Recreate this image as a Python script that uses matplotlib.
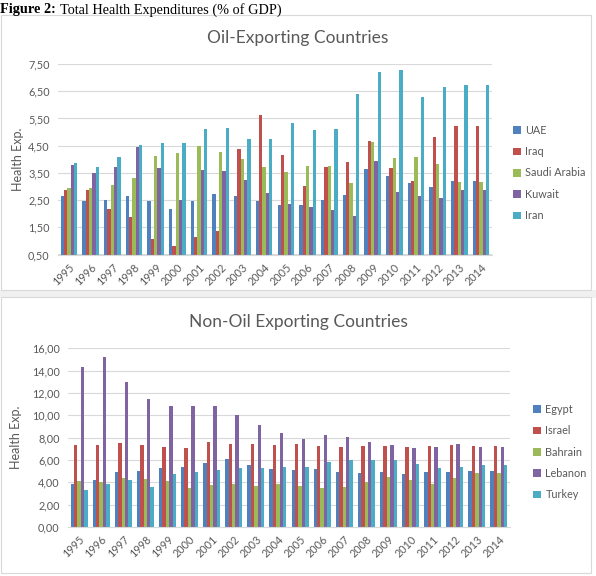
import numpy as np
import matplotlib.pyplot as plt
from matplotlib.patches import Rectangle

plt.rcParams['font.family'] = ['Lato', 'DejaVu Sans']

years = [str(y) for y in range(1995, 2015)]

# Oil-exporting countries (% of GDP)
uae = [2.65, 2.47, 2.50, 2.64, 2.48, 2.18, 2.48, 2.72, 2.65, 2.47,
       2.32, 2.32, 2.49, 2.68, 3.65, 3.39, 3.14, 2.97, 3.20, 3.20]
iraq = [2.87, 2.87, 2.18, 1.89, 1.06, 0.81, 1.13, 1.38, 4.37, 5.63,
        4.15, 3.02, 3.71, 3.90, 4.66, 3.68, 3.20, 4.83, 5.22, 5.22]
saudi = [2.94, 2.94, 3.04, 3.32, 4.12, 4.24, 4.49, 4.28, 4.01, 3.71,
         3.54, 3.75, 3.75, 3.12, 4.62, 4.05, 4.10, 3.83, 3.15, 3.15]
kuwait = [3.78, 3.49, 3.71, 4.46, 3.67, 2.50, 3.61, 3.56, 3.23, 2.75,
          2.37, 2.25, 2.14, 1.93, 3.94, 2.79, 2.64, 2.57, 2.88, 2.88]
iran = [3.85, 3.71, 4.10, 4.51, 4.60, 4.60, 5.10, 5.13, 4.75, 4.74,
        5.33, 5.08, 5.11, 6.38, 7.21, 7.29, 6.28, 6.66, 6.71, 6.71]

# Non-oil exporting countries (% of GDP)
egypt = [3.82, 4.18, 4.92, 5.04, 5.28, 5.40, 5.76, 6.09, 5.58, 5.22,
         5.10, 5.19, 4.92, 4.80, 4.95, 4.74, 4.88, 4.90, 5.04, 5.04]
israel = [7.31, 7.37, 7.55, 7.37, 7.13, 7.07, 7.58, 7.46, 7.40, 7.31,
          7.40, 7.22, 7.16, 7.25, 7.25, 7.19, 7.28, 7.34, 7.22, 7.22]
bahrain = [4.12, 4.03, 4.36, 4.27, 4.15, 3.46, 3.76, 3.85, 3.70, 3.88,
           3.70, 3.52, 3.55, 4.06, 4.45, 4.21, 3.82, 4.39, 4.83, 4.83]
lebanon = [14.30, 15.19, 12.98, 11.43, 10.83, 10.83, 10.83, 10.00, 9.13, 8.39,
           7.85, 8.27, 8.06, 7.64, 7.31, 7.10, 7.12, 7.43, 7.16, 7.16]
turkey = [3.31, 3.85, 4.18, 3.55, 4.74, 4.90, 5.13, 5.31, 5.28, 5.34,
          5.40, 5.79, 6.00, 6.00, 6.00, 5.60, 5.25, 5.37, 5.55, 5.55]

colors = ['#4F81BD', '#C0504D', '#9BBB59', '#8064A2', '#4BACC6']
txt = '#595959'
grid = '#D9D9D9'

fig = plt.figure(figsize=(5.96, 5.76), dpi=100)

# panel backgrounds (kept behind the axes)
fig.patches.append(Rectangle((0, 1 - 298 / 576), 1, 8 / 576, transform=fig.transFigure,
                             facecolor='#F0F0F0', edgecolor='none', zorder=-5))
fig.patches.append(Rectangle((0.002, 1 - 290 / 576), 0.99, 275 / 576, transform=fig.transFigure,
                             facecolor='white', edgecolor=grid, lw=0.8, zorder=-5))
fig.patches.append(Rectangle((0.002, 3 / 576), 0.99, 276 / 576, transform=fig.transFigure,
                             facecolor='white', edgecolor=grid, lw=0.8, zorder=-5))

fig.text(0.0, 1 - 10 / 576, 'Figure 2:', family='Liberation Serif', weight='bold',
         fontsize=10.3, va='center', ha='left')
fig.text(0.101, 1 - 10 / 576, 'Total Health Expenditures (% of GDP)', family='Liberation Serif',
         fontsize=10.3, va='center', ha='left')


def draw(ax, series, names, ymin, ymax, step, leg_anchor, pad):
    x = np.arange(len(years))
    w = 1 / 6.5
    for i, (vals, name) in enumerate(zip(series, names)):
        ax.bar(x + (i - 2) * w, np.array(vals) - ymin, w, bottom=ymin,
               color=colors[i], label=name, zorder=2)
    ax.set_xlim(-0.5, len(years) - 0.5)
    ax.set_ylim(ymin, ymax)
    ticks = np.arange(ymin, ymax + step / 2, step)
    ax.set_yticks(ticks)
    ax.set_yticklabels([f'{t:.2f}'.replace('.', ',') for t in ticks])
    ax.set_xticks(x)
    ax.set_xticklabels(years, rotation=45, ha='right', rotation_mode='anchor')
    ax.grid(axis='y', color=grid, lw=0.8, zorder=0)
    for s in ['top', 'right', 'left']:
        ax.spines[s].set_visible(False)
    ax.spines['bottom'].set_color(grid)
    ax.tick_params(length=0, colors=txt, labelsize=7.8)
    ax.tick_params(axis='y', pad=6)
    ax.tick_params(axis='x', pad=5)
    ax.set_ylabel('Health Exp.', color=txt, fontsize=9, labelpad=pad)
    ax.legend(loc='center left', bbox_to_anchor=leg_anchor, bbox_transform=fig.transFigure,
              frameon=False, fontsize=7.8, handlelength=0.7, handleheight=0.7,
              handletextpad=0.4, labelspacing=0.95, borderpad=0, labelcolor=txt)


ax1 = fig.add_axes([58 / 596, 1 - 254.5 / 576, (492 - 58) / 596, (254.5 - 64) / 576])
draw(ax1, [uae, iraq, saudi, kuwait, iran], ['UAE', 'Iraq', 'Saudi Arabia', 'Kuwait', 'Iran'],
     0.5, 7.5, 1.0, (508 / 596, 1 - 173 / 576), 3)
fig.text(0.5, 1 - 38 / 576, 'Oil-Exporting Countries', color=txt, fontsize=12.5,
         ha='center', va='center')

ax2 = fig.add_axes([68 / 596, 1 - 527 / 576, (510 - 68) / 596, (527 - 348.3) / 576])
draw(ax2, [egypt, israel, bahrain, lebanon, turkey], ['Egypt', 'Israel', 'Bahrain', 'Lebanon', 'Turkey'],
     0.0, 16.0, 2.0, (528 / 596, 1 - 452 / 576), 7)
fig.text(0.5, 1 - 322 / 576, 'Non-Oil Exporting Countries', color=txt, fontsize=12.5,
         ha='center', va='center')

fig.savefig('out.png', dpi=100)
